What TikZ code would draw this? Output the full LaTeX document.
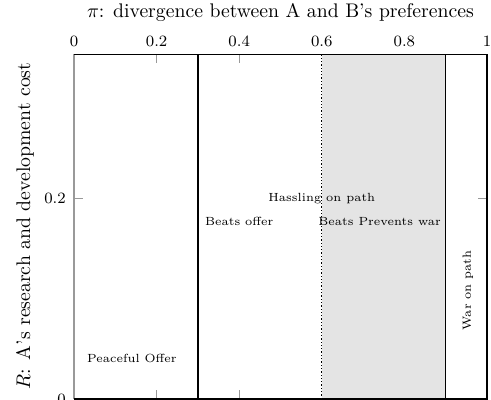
\documentclass[tikz,border=0pt]{standalone}
\usepackage{amsmath,amssymb}
\usepackage{tikz}
\usetikzlibrary{calc}
\definecolor{warZoneGray}{HTML}{E4E4E4}
\definecolor{tickGray}{HTML}{999999}

\begin{document}
\begin{tikzpicture}[x={(209.6pt,0)},y={(0,510pt)},scale=1.97,
    every node/.append style={transform shape,inner sep=0pt},
    regionlabel/.style={font=\fontsize{6}{7}\selectfont},
    ticklabel/.style={font=\footnotesize},
    tickmark/.style={tickGray,line width=.8pt},
    border/.style={black,line width=1.5pt}]
    \useasboundingbox (-0.1792,-0.001) rectangle (1.0097,0.397);
    % shaded band
    \fill[warZoneGray] (0.6,0) rectangle (0.9,0.343);
    % ticks
    \foreach \tx in {0.2,0.4} {
      \draw[tickmark] (\tx,0) -- (\tx,0.009);
      \draw[tickmark] (\tx,0.343) -- (\tx,0.334);
    }
    \draw[tickmark] (0,0.2) -- (0.022,0.2);
    \draw[tickmark] (1,0.2) -- (0.978,0.2);
    % frame
    \draw[tickGray,line width=1.2pt] (0,0) -- (0,0.343);
    \draw[border] (0,0.343) -- (1,0.343) -- (1,0) -- (0,0);
    \draw[border] (0.3,0) -- (0.3,0.343);
    \draw[border] (0.9,0) -- (0.9,0.343);
    \draw[black,line width=1.3pt,dotted] (0.6,0) -- (0.6,0.343);
    % tick labels
    \foreach \tx/\tl in {0/0,0.2/0.2,0.4/0.4,0.6/0.6,0.8/0.8,1/1}
      \node[ticklabel] (xt\tl) at (\tx,0.356) {$\tl$};
    \node[ticklabel,anchor=east] (yt0) at (-0.019,0) {$0$};
    \node[ticklabel,anchor=east] (yt2) at (-0.019,0.2) {$0.2$};
    % axis labels
    \node (title) at (0.5,0.385) {$\pi$: divergence between A and B's preferences};
    \node[rotate=90] (ylab) at (-0.119,0.172) {$R$: A's research and development cost};
    % region labels
    \node[regionlabel] (peace) at (0.14,0.04) {Peaceful Offer};
    \node[regionlabel] (beatsoffer) at (0.40,0.177) {Beats offer};
    \node[regionlabel] (hassle) at (0.60,0.199) {Hassling on path};
    \node[regionlabel] (beatswar) at (0.74,0.177) {Beats Prevents war};
    \node[regionlabel,rotate=90] (waronpath) at (0.954,0.108) {War on path};
\end{tikzpicture}
\end{document}
